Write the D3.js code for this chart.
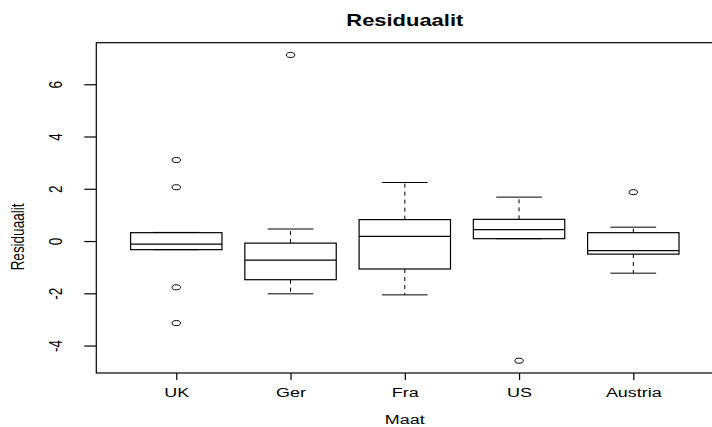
<!DOCTYPE html>
<html>
<head>
<meta charset="utf-8">
<script src="https://cdn.jsdelivr.net/npm/d3@7"></script>
<style>
  html, body { margin: 0; padding: 0; background: #fff; }
  svg { display: block; }
  text { font-family: "Liberation Sans", Arial, Helvetica, sans-serif; fill: #000; }
</style>
</head>
<body>
<svg id="chart" width="712" height="427"></svg>
<script>
// ---- data ----
const categories = ["UK", "Ger", "Fra", "US", "Austria"];
const whiskerLow  = [-0.33, -2.02, -2.06, 0.09, -1.23];
const q1          = [-0.33, -1.48, -1.07, 0.09, -0.50];
const medians     = [-0.12, -0.73,  0.18, 0.44, -0.37];
const q3          = [ 0.32, -0.08,  0.82, 0.83,  0.32];
const whiskerHigh = [ 0.33,  0.46,  2.24, 1.68,  0.53];
const outliers    = [[3.10, 2.06, -1.77, -3.14], [7.12], [], [-4.58], [1.87]];
const yTicks = [-4, -2, 0, 2, 4, 6];
const titleText = "Residuaalit";
const xLabel = "Maat";
const yLabel = "Residuaalit";

// ---- layout ----
const svg = d3.select("#chart");
const k = 1.33; // horizontal stretch of the reference picture
const x = d3.scaleLinear().domain([0.3, 5.7]).range([96.3, 713.3]);
const y = d3.scaleLinear().domain([-5.05, 7.59]).range([373, 42.7]);
const unit = x(1) - x(0);
const boxW = 0.8 * unit, stapleW = 0.4 * unit;

const g = svg.append("g");

const boxes = categories.map((c, i) => ({
  c, i: i + 1, lo: whiskerLow[i], q1: q1[i], med: medians[i], q3: q3[i], hi: whiskerHigh[i], out: outliers[i]
}));

// whiskers (dashed)
boxes.forEach(b => {
  const cx = x(b.i);
  g.append("line").attr("x1", cx).attr("x2", cx).attr("y1", y(b.q1)).attr("y2", y(b.lo))
    .attr("stroke", "#000").attr("stroke-width", 1).attr("stroke-dasharray", "4,4");
  g.append("line").attr("x1", cx).attr("x2", cx).attr("y1", y(b.q3)).attr("y2", y(b.hi))
    .attr("stroke", "#000").attr("stroke-width", 1).attr("stroke-dasharray", "4,4");
  // staples
  [b.lo, b.hi].forEach(v => {
    g.append("line").attr("x1", cx - stapleW / 2).attr("x2", cx + stapleW / 2)
      .attr("y1", y(v)).attr("y2", y(v)).attr("stroke", "#000").attr("stroke-width", 1);
  });
  // box
  g.append("rect").attr("x", cx - boxW / 2).attr("width", boxW)
    .attr("y", y(b.q3)).attr("height", y(b.q1) - y(b.q3))
    .attr("fill", "none").attr("stroke", "#000").attr("stroke-width", 1.2);
  // median
  g.append("line").attr("x1", cx - boxW / 2).attr("x2", cx + boxW / 2)
    .attr("y1", y(b.med)).attr("y2", y(b.med)).attr("stroke", "#000").attr("stroke-width", 1.2);
  // outliers
  b.out.forEach(v => {
    g.append("ellipse").attr("cx", cx).attr("cy", y(v)).attr("rx", 4.2).attr("ry", 2.5)
      .attr("fill", "none").attr("stroke", "#000").attr("stroke-width", 1);
  });
});

// plot frame
svg.append("rect").attr("x", x(0.3)).attr("y", y(7.59))
  .attr("width", x(5.7) - x(0.3)).attr("height", y(-5.05) - y(7.59))
  .attr("fill", "none").attr("stroke", "#000").attr("stroke-width", 1.2);

// x axis
const xAxis = svg.append("g").attr("transform", `translate(0,${y(-5.05)})`)
  .call(d3.axisBottom(x).tickValues([1, 2, 3, 4, 5]).tickFormat(d => categories[d - 1]).tickSize(7).tickSizeOuter(0));
xAxis.select(".domain").remove();
xAxis.selectAll(".tick line").attr("stroke", "#000").attr("stroke-width", 1.2);
xAxis.selectAll(".tick text")
  .attr("y", 0).attr("dy", 0)
  .attr("font-size", 13.5)
  .attr("transform", `translate(0,24) scale(${k},1)`);

// y axis
const yAxis = svg.append("g").attr("transform", `translate(${x(0.3)},0)`)
  .call(d3.axisLeft(y).tickValues(yTicks).tickFormat(d => d3.format("")(d).replace("−", "-")).tickSize(12).tickSizeOuter(0));
yAxis.select(".domain").remove();
yAxis.selectAll(".tick line").attr("stroke", "#000").attr("stroke-width", 1.2);
yAxis.selectAll(".tick text")
  .attr("x", 0).attr("dy", 0)
  .attr("text-anchor", "middle")
  .attr("font-size", 13.5)
  .attr("transform", `translate(-34,0) rotate(-90) scale(1,${k})`);

// title
svg.append("text").attr("text-anchor", "middle").attr("font-weight", "bold").attr("font-size", 16.5)
  .attr("transform", `translate(${(x(0.3) + x(5.7)) / 2},26) scale(${k},1)`).text(titleText);
// x label
svg.append("text").attr("text-anchor", "middle").attr("font-size", 13.5)
  .attr("transform", `translate(${(x(0.3) + x(5.7)) / 2},424) scale(${k},1)`).text(xLabel);
// y label
svg.append("text").attr("text-anchor", "middle").attr("font-size", 13.5)
  .attr("transform", `translate(24,237) rotate(-90) scale(1,${k})`).text(yLabel);
</script>
</body>
</html>
